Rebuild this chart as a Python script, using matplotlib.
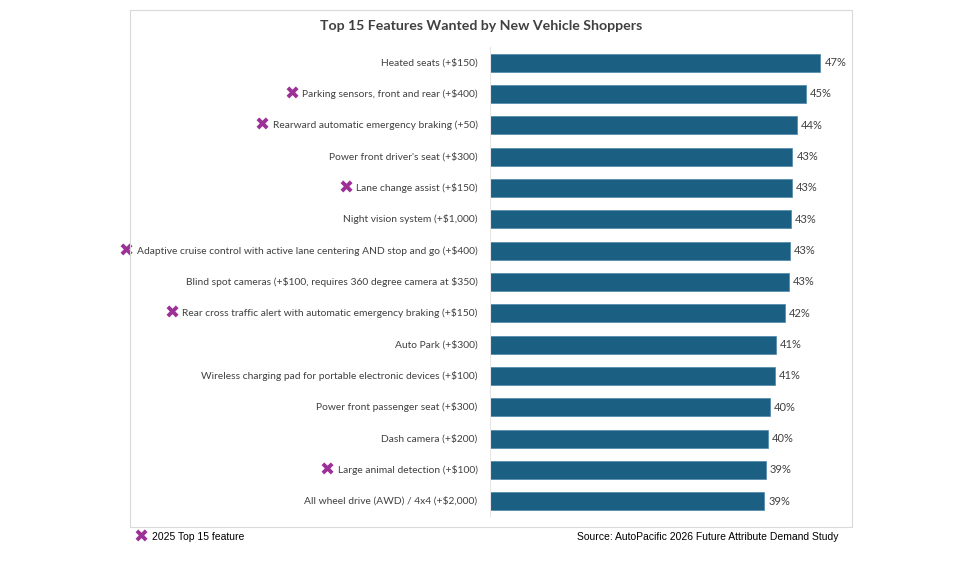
import matplotlib
matplotlib.use("Agg")
import matplotlib.pyplot as plt
from matplotlib.patches import Rectangle
from matplotlib import font_manager

# --- Données ---
features = [
    "Heated seats (+$150)",
    "Parking sensors, front and rear (+$400)",
    "Rearward automatic emergency braking (+50)",
    "Power front driver's seat (+$300)",
    "Lane change assist (+$150)",
    "Night vision system (+$1,000)",
    "Adaptive cruise control with active lane centering AND stop and go (+$400)",
    "Blind spot cameras (+$100, requires 360 degree camera at $350)",
    "Rear cross traffic alert with automatic emergency braking (+$150)",
    "Auto Park (+$300)",
    "Wireless charging pad for portable electronic devices (+$100)",
    "Power front passenger seat (+$300)",
    "Dash camera (+$200)",
    "Large animal detection (+$100)",
    "All wheel drive (AWD) / 4x4 (+$2,000)",
]
values = [47.1, 45.0, 43.7, 43.1, 43.0, 42.9, 42.7, 42.6, 42.0, 40.7, 40.6, 39.9, 39.6, 39.3, 39.1]
top2025 = [False, True, True, False, True, False, True, False, True,
           False, False, False, False, True, False]

title = "Top 15 Features Wanted by New Vehicle Shoppers"
legend_txt = "2025 Top 15 feature"
source_txt = "Source: AutoPacific 2026 Future Attribute Demand Study"

bar_col = "#1b5f82"
txt_col = "#404040"
mark_col = "#9c3097"

installed = {f.name for f in font_manager.fontManager.ttflist}
narrow = "Liberation Sans Narrow" if "Liberation Sans Narrow" in installed else "Lato"

W, H = 980, 561
fig = plt.figure(figsize=(W / 100, H / 100), dpi=100)

# cadre gris clair du graphique
fig.patches.append(Rectangle((130 / W, 1 - 527 / H), (852 - 130) / W, (527 - 10) / H,
                             transform=fig.transFigure, fill=False,
                             edgecolor="#d9d9d9", linewidth=0.8))

ax = fig.add_axes([490 / W, 1 - 517 / H, (852 - 490) / W, (517 - 47) / H])
y = list(range(len(features)))
ax.barh(y, values, height=0.58, color=bar_col, edgecolor="#4a86a8", linewidth=0.5)
ax.set_xlim(0, 51.6)
ax.set_ylim(len(features) - 0.5, -0.5)
ax.set_xticks([])
ax.set_yticks([])
for s in ax.spines.values():
    s.set_visible(False)
ax.axvline(0, color="#e6e6e6", linewidth=0.8)

for i, (lab, v, m) in enumerate(zip(features, values, top2025)):
    t = ax.annotate(lab, xy=(0, i), xytext=(-9, 0), textcoords="offset points",
                    ha="right", va="center", fontsize=7.4, color=txt_col,
                    family=narrow, parse_math=False)
    if m:
        ax.annotate("\u2716", xy=(0, 0.5), xycoords=t, xytext=(-2, -0.5),
                    textcoords="offset points", ha="right", va="center",
                    fontsize=13, color=mark_col, family="DejaVu Sans")
    ax.annotate(f"{round(v)}%", xy=(v, i), xytext=(3, 0), textcoords="offset points",
                ha="left", va="center", fontsize=8, color=txt_col, family=narrow)

fig.text(481 / W, 1 - 26 / H, title, ha="center", va="center", fontsize=10.2,
         fontweight="bold", color="#404040", family=narrow)

fig.text(133 / W, 1 - 538 / H, "\u2716", ha="left", va="center", fontsize=13,
         color=mark_col, family="DejaVu Sans")
fig.text(152 / W, 1 - 537 / H, legend_txt, ha="left", va="center", fontsize=7.5,
         color="black", family="Liberation Sans")
fig.text(838 / W, 1 - 537 / H, source_txt, ha="right", va="center", fontsize=7.5,
         color="black", family="Liberation Sans")

plt.savefig("out.png", dpi=100)
